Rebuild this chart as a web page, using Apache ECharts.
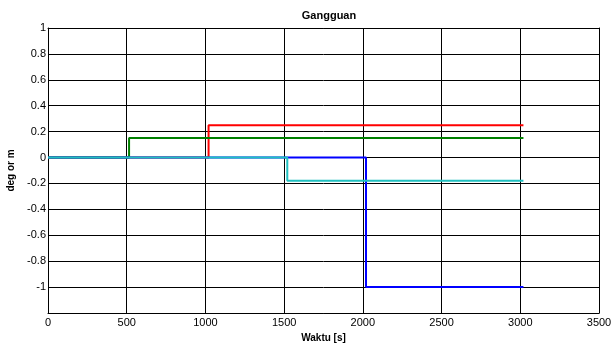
<!DOCTYPE html>
<html>
<head>
<meta charset="utf-8">
<script src="https://cdn.jsdelivr.net/npm/echarts@6/dist/echarts.min.js"></script>
<style>
  html, body { margin: 0; padding: 0; background: #fff; }
  #chart { width: 612px; height: 345px; }
</style>
</head>
<body>
<div id="chart"></div>
<script>
// Disturbance signals: each is zero until its switch time, then holds a constant level
const seriesNames = ['red', 'green', 'blue', 'cyan'];
const switchTimes = [1020, 515, 2020, 1520];
const levels = [0.25, 0.15, -1.0, -0.18];
const endTime = 3020;
const colors = ['#ff0000', '#008000', '#0000ff', '#1fc0c0'];
const xTicks = [0, 500, 1000, 1500, 2000, 2500, 3000, 3500];
const yTicks = [-1.2, -1, -0.8, -0.6, -0.4, -0.2, 0, 0.2, 0.4, 0.6, 0.8, 1];

function stepData(t, v) {
  return [[0, 0], [t, 0], [t, v], [endTime, v]];
}

const font = '"Liberation Sans", Arial, sans-serif';
const chart = echarts.init(document.getElementById('chart'), null, { renderer: 'canvas' });

const gridLine = { show: true, lineStyle: { color: '#000', width: 1, type: 'solid' } };
const axisLine = { show: true, onZero: false, lineStyle: { color: '#000', width: 1 } };

chart.setOption({
  animation: false,
  backgroundColor: '#fff',
  title: {
    text: 'Gangguan',
    left: 324, top: 5, textAlign: 'center',
    textStyle: { fontFamily: font, fontSize: 11, fontWeight: 'bold', color: '#000' }
  },
  grid: { left: 48, right: 13, top: 28, bottom: 32, outerBoundsMode: 'none', containLabel: false },
  xAxis: [{
    type: 'value', min: xTicks[0], max: xTicks[xTicks.length - 1], interval: 500,
    axisLine: axisLine, axisTick: { show: false }, splitLine: gridLine,
    axisLabel: { color: '#000', fontFamily: font, fontSize: 11, margin: 4, formatter: v => String(v) },
    name: 'Waktu [s]', nameLocation: 'middle', nameGap: 17,
    nameTextStyle: { color: '#000', fontFamily: font, fontSize: 10, fontWeight: 'bold' }
  }, {
    type: 'value', position: 'top', min: xTicks[0], max: xTicks[xTicks.length - 1], interval: 500,
    axisLine: axisLine, axisTick: { show: false }, axisLabel: { show: false }, splitLine: { show: false }
  }],
  yAxis: [{
    type: 'value', min: yTicks[0], max: yTicks[yTicks.length - 1], interval: 0.2,
    axisLine: axisLine, axisTick: { show: false }, splitLine: gridLine,
    axisLabel: {
      color: '#000', fontFamily: font, fontSize: 11, margin: 2,
      formatter: v => (v < -1.1 ? '' : Math.abs(v) < 1e-9 ? '0' : String(Math.round(v * 10) / 10))
    },
    name: 'deg or m', nameLocation: 'middle', nameGap: 31, nameRotate: 90,
    nameTextStyle: { color: '#000', fontFamily: font, fontSize: 10, fontWeight: 'bold' }
  }, {
    type: 'value', position: 'right', min: yTicks[0], max: yTicks[yTicks.length - 1], interval: 0.2,
    axisLine: axisLine, axisTick: { show: false }, axisLabel: { show: false }, splitLine: { show: false }
  }],
  series: seriesNames.map((n, i) => ({
    name: n, type: 'line', showSymbol: false, symbol: 'none',
    data: stepData(switchTimes[i], levels[i]),
    lineStyle: { color: colors[i], width: 2 },
    z: 2 + i
  }))
});
</script>
</body>
</html>
